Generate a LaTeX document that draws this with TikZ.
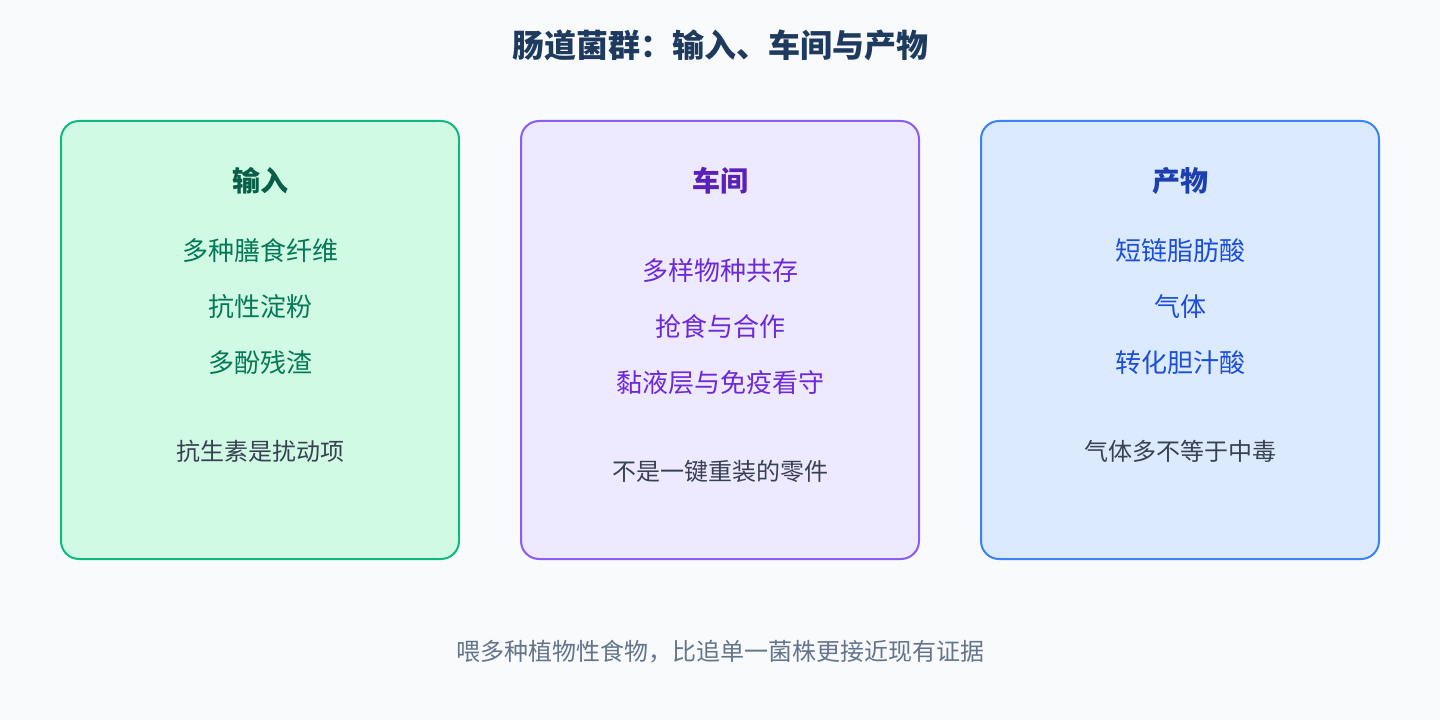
\documentclass[tikz,border=0pt]{standalone}
\usepackage{fontspec}
\setmainfont{Noto Sans CJK SC}
\begin{document}
\begin{tikzpicture}[x=0.75pt,y=-0.75pt,
  card/.style={rounded corners=13.5pt, line width=1.5pt},
  title/.style={font=\bfseries\fontsize{24pt}{28pt}\selectfont, text=titlec},
  head/.style={font=\bfseries\fontsize{21pt}{25pt}\selectfont},
  item/.style={font=\fontsize{19.5pt}{23pt}\selectfont},
  note/.style={font=\fontsize{18pt}{22pt}\selectfont, text=notec},
  foot/.style={font=\fontsize{18pt}{22pt}\selectfont, text=footc},
  inner sep=0pt, outer sep=0pt]
\definecolor{bg}{HTML}{F8FAFC}
\definecolor{titlec}{HTML}{1E3A5F}
\definecolor{notec}{HTML}{374151}
\definecolor{footc}{HTML}{64748B}
\definecolor{gfill}{HTML}{D1FAE5}\definecolor{gdraw}{HTML}{10B981}
\definecolor{ghead}{HTML}{065F46}\definecolor{gitem}{HTML}{047857}
\definecolor{pfill}{HTML}{EDE9FE}\definecolor{pdraw}{HTML}{8B5CF6}
\definecolor{phead}{HTML}{5B21B6}\definecolor{pitem}{HTML}{6D28D9}
\definecolor{bfill}{HTML}{DBEAFE}\definecolor{bdraw}{HTML}{3B82F6}
\definecolor{bhead}{HTML}{1E40AF}\definecolor{bitem}{HTML}{1D4ED8}
\fill[bg] (0,0) rectangle (1440,720);
\useasboundingbox (0,0) rectangle (1440,720);
\node[title] (t) at (720,45) {肠道菌群：输入、车间与产物};
% cards
\draw[card, fill=gfill, draw=gdraw] (61,121) rectangle (459,559);
\draw[card, fill=pfill, draw=pdraw] (521,121) rectangle (919,559);
\draw[card, fill=bfill, draw=bdraw] (981,121) rectangle (1379,559);
% green
\node[head, text=ghead] (gh) at (260,181) {输入};
\node[item, text=gitem] (g1) at (260,251) {多种膳食纤维};
\node[item, text=gitem] (g2) at (260,307) {抗性淀粉};
\node[item, text=gitem] (g3) at (260,363) {多酚残渣};
\node[note] (gn) at (260,451) {抗生素是扰动项};
% purple
\node[head, text=phead] (ph) at (720,181) {车间};
\node[item, text=pitem] (p1) at (720,271) {多样物种共存};
\node[item, text=pitem] (p2) at (720,327) {抢食与合作};
\node[item, text=pitem] (p3) at (720,383) {黏液层与免疫看守};
\node[note] (pn) at (720,471) {不是一键重装的零件};
% blue
\node[head, text=bhead] (bh) at (1180,181) {产物};
\node[item, text=bitem] (b1) at (1180,251) {短链脂肪酸};
\node[item, text=bitem] (b2) at (1180,307) {气体};
\node[item, text=bitem] (b3) at (1180,363) {转化胆汁酸};
\node[note] (bn) at (1180,451) {气体多不等于中毒};
% footer
\node[foot] (f) at (720,652) {喂多种植物性食物，比追单一菌株更接近现有证据};
\end{tikzpicture}
\end{document}
